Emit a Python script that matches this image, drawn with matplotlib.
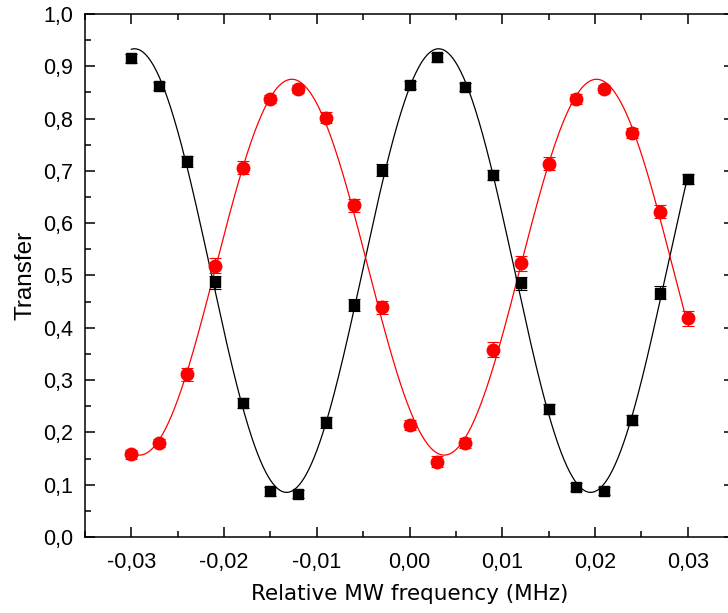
import numpy as np
import matplotlib
matplotlib.use("Agg")
import matplotlib.pyplot as plt
from matplotlib.ticker import FuncFormatter, MultipleLocator

# ---- data ----
freq = [-0.030, -0.027, -0.024, -0.021, -0.018, -0.015, -0.012, -0.009, -0.006, -0.003,
        0.000, 0.003, 0.006, 0.009, 0.012, 0.015, 0.018, 0.021, 0.024, 0.027, 0.030]
black_y = [0.915, 0.862, 0.718, 0.487, 0.256, 0.087, 0.082, 0.219, 0.444, 0.702,
           0.864, 0.917, 0.860, 0.692, 0.485, 0.245, 0.096, 0.088, 0.224, 0.467, 0.685]
black_err = [0.008, 0.008, 0.010, 0.012, 0.010, 0.008, 0.008, 0.010, 0.012, 0.012,
             0.008, 0.008, 0.008, 0.010, 0.012, 0.010, 0.008, 0.008, 0.010, 0.012, 0.010]
red_y = [0.158, 0.180, 0.311, 0.519, 0.706, 0.837, 0.857, 0.802, 0.634, 0.439,
         0.214, 0.144, 0.180, 0.358, 0.523, 0.714, 0.837, 0.856, 0.772, 0.622, 0.418]
red_err = [0.008, 0.008, 0.012, 0.014, 0.012, 0.008, 0.008, 0.010, 0.012, 0.012,
           0.010, 0.010, 0.010, 0.014, 0.014, 0.012, 0.010, 0.008, 0.010, 0.012, 0.014]

x_label = "Relative MW frequency (MHz)"
y_label = "Transfer"


def sine_fit(x, y):
    """Least-squares sinusoid fit (grid search on frequency, linear for the rest)."""
    x = np.asarray(x); y = np.asarray(y)
    best = None
    for w in np.linspace(2 * np.pi * 24, 2 * np.pi * 38, 3000):
        A = np.column_stack([np.ones_like(x), np.sin(w * x), np.cos(w * x)])
        coef, *_ = np.linalg.lstsq(A, y, rcond=None)
        r = np.sum((A @ coef - y) ** 2)
        if best is None or r < best[0]:
            best = (r, w, coef)
    _, w, c = best
    return lambda t: c[0] + c[1] * np.sin(w * t) + c[2] * np.cos(w * t)


fig = plt.figure(figsize=(7.28, 6.13), dpi=100)
ax = fig.add_axes([85 / 728, (613 - 537) / 613, (734 - 85) / 728, 523 / 613])

xf = np.linspace(min(freq), max(freq), 600)
fb = sine_fit(freq, black_y)
fr = sine_fit(freq, red_y)
ax.plot(xf, fb(xf), color="black", lw=0.9, zorder=2)
ax.plot(xf, fr(xf), color="red", lw=0.9, zorder=2)

ax.errorbar(freq, black_y, yerr=black_err, fmt="s", color="black", ms=7.8,
            capsize=4, elinewidth=0.8, capthick=0.8, zorder=3)
ax.errorbar(freq, red_y, yerr=red_err, fmt="o", color="red", ms=9,
            capsize=4, elinewidth=0.8, capthick=0.8, zorder=3)

ax.set_xlim(-0.035, 0.035)
ax.set_ylim(0.0, 1.0)
ax.xaxis.set_major_locator(MultipleLocator(0.01))
ax.xaxis.set_minor_locator(MultipleLocator(0.005))
ax.yaxis.set_major_locator(MultipleLocator(0.1))
ax.yaxis.set_minor_locator(MultipleLocator(0.05))
ax.xaxis.set_major_formatter(FuncFormatter(lambda v, p: ("%.2f" % v).replace(".", ",")))
ax.yaxis.set_major_formatter(FuncFormatter(lambda v, p: ("%.1f" % v).replace(".", ",")))

ax.tick_params(which="both", direction="in", top=True, right=True, width=1.1)
ax.tick_params(which="major", length=7)
ax.tick_params(which="minor", length=4)
ax.tick_params(axis="x", which="major", pad=11)
ax.tick_params(axis="y", which="major", pad=8.5)
for lab in ax.get_xticklabels() + ax.get_yticklabels():
    lab.set_fontfamily("Liberation Sans")
    lab.set_fontsize(15.5)
for s in ax.spines.values():
    s.set_linewidth(1.1)

ax.set_xlabel(x_label, fontfamily="DejaVu Sans", fontsize=15.5, labelpad=8)
ax.set_ylabel(y_label, fontfamily="Liberation Sans", fontsize=17.5, labelpad=5)

fig.savefig("out.png", dpi=100)
